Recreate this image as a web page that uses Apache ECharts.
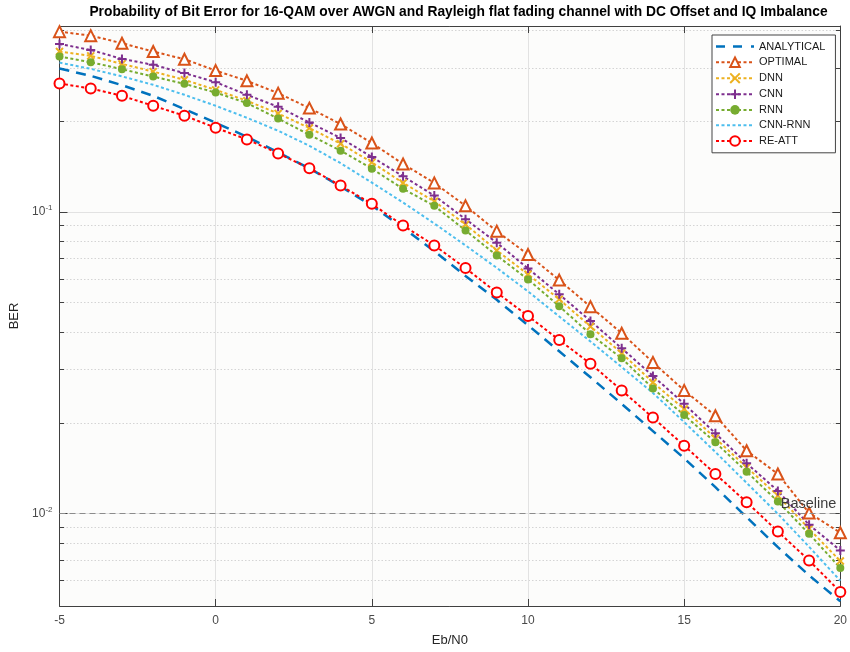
<!DOCTYPE html>
<html><head><meta charset="utf-8">
<script src="https://cdn.jsdelivr.net/npm/echarts@6/dist/echarts.min.js"></script>
<style>html,body{margin:0;padding:0;background:#fff}#c{width:850px;height:652px}</style>
</head><body><div id="c"></div>
<script>
const ebN0 = [-5,-4,-3,-2,-1,0,1,2,3,4,5,6,7,8,9,10,11,12,13,14,15,16,17,18,19,20];
const analytical = [0.2985,0.2823,0.2630,0.2424,0.2191,0.1973,0.1774,0.1574,0.1394,0.1213,0.1049,0.0885,0.0741,0.0613,0.0511,0.0421,0.0345,0.0283,0.0231,0.01877,0.01525,0.01223,0.00973,0.00774,0.00624,0.00512];
const optimal = [0.3956,0.3837,0.3622,0.3398,0.3206,0.2939,0.2718,0.2474,0.2207,0.1954,0.1691,0.1441,0.1247,0.1047,0.0863,0.0722,0.0594,0.0485,0.0396,0.0317,0.0256,0.0211,0.01616,0.01353,0.01005,0.00864];
const dnn = [0.3398,0.3288,0.3094,0.2916,0.2739,0.2537,0.2334,0.2119,0.1896,0.1682,0.1459,0.1247,0.1084,0.0908,0.0745,0.0621,0.0513,0.0417,0.0340,0.0272,0.0222,0.01776,0.01424,0.01147,0.00890,0.00696];
const cnn = [0.3600,0.3440,0.3213,0.3070,0.2883,0.2691,0.2443,0.2229,0.1978,0.1757,0.1520,0.1312,0.1132,0.0946,0.0790,0.0649,0.0533,0.0435,0.0353,0.0286,0.0231,0.01845,0.01468,0.01189,0.00918,0.00755];
const rnn = [0.3270,0.3133,0.2971,0.2808,0.2657,0.2485,0.2293,0.2038,0.1801,0.1595,0.1390,0.1192,0.1047,0.0868,0.0717,0.0597,0.0487,0.0393,0.0327,0.0260,0.0212,0.01722,0.01377,0.01096,0.00857,0.00660];
const cnnRnn = [0.3124,0.2978,0.2812,0.2636,0.2443,0.2247,0.2050,0.1857,0.1656,0.1450,0.1250,0.1074,0.0915,0.0774,0.0652,0.0545,0.0450,0.0372,0.0306,0.0251,0.0201,0.0160,0.01264,0.00998,0.00776,0.00599];
const reAtt = [0.2663,0.2563,0.2424,0.2247,0.2083,0.1900,0.1738,0.1562,0.1394,0.1222,0.1063,0.0901,0.0774,0.0651,0.0540,0.0452,0.0376,0.0314,0.0256,0.0208,0.01679,0.01353,0.01091,0.00872,0.00699,0.00550];
const seriesNames = ['ANALYTICAL','OPTIMAL','DNN','CNN','RNN','CNN-RNN','RE-ATT'];
const xTicks = [-5,0,5,10,15,20];
const yMajorTicks = [0.01, 0.1];
const yMinorTicks = [0.006,0.007,0.008,0.009,0.02,0.03,0.04,0.05,0.06,0.07,0.08,0.09,0.2,0.3,0.4];
const baselineValue = 0.01;
const yMin = 0.00494, yMax = 0.413, xMin = -5, xMax = 20;

const FONT = 'Liberation Sans, Arial, sans-serif';
const AX = '#404040';
const pair = arr => ebN0.map((x, i) => [x, arr[i]]);
const supFmt = v => '10{s|' + Math.round(Math.log10(v)) + '}';
const DOT = [3, 2.5];
const PLUS = 'path://M5,0L5,10M0,5L10,5';
const CROSS = 'path://M0,0L10,10M0,10L10,0';

// legend icon made of short filled bars (line-only legend entries)
function barIcon(segs, h) {
  return 'path://' + segs.map(s => 'M' + s[0] + ',0h' + s[1] + 'v' + h + 'h-' + s[1] + 'z').join('');
}
const dashedIcon = barIcon([[0, 9], [17, 9], [35, 3]], 2.5);
const dottedIcon = barIcon([[0, 3], [5.5, 3], [11, 3], [16.5, 3], [22, 3], [27.5, 3], [33, 3], [38, 0.01]], 2);

function yAx(pos, minor) {
  return {
    type: 'log', logBase: 10, min: yMin, max: yMax, position: pos,
    axisLine: {show: !minor, onZero: false, lineStyle: {color: AX, width: 1}},
    axisTick: {show: true, inside: true, length: minor ? 4.5 : 8, lineStyle: {color: AX}, customValues: minor ? yMinorTicks : yMajorTicks},
    axisLabel: (pos === 'left' && !minor) ? {
      show: true, customValues: yMajorTicks, formatter: supFmt, color: '#4a4a4a', fontSize: 12, margin: 7, fontFamily: FONT,
      rich: {s: {fontSize: 8, padding: [0, 0, 8, 0], color: '#4a4a4a', fontFamily: FONT}}
    } : {show: false},
    splitLine: (pos === 'left') ? (minor ? {show: true, lineStyle: {color: '#d4d4d4', type: [1.5, 2], width: 1}}
                                         : {show: true, lineStyle: {color: '#e2e2e2', width: 1}}) : {show: false},
    minorTick: {show: false}
  };
}

const yAxes = [yAx('left', false), yAx('left', true), yAx('right', false), yAx('right', true)];
yAxes[0].name = 'BER';
yAxes[0].nameLocation = 'middle';
yAxes[0].nameGap = 32;
yAxes[0].nameTextStyle = {fontSize: 13, color: '#262626', fontFamily: FONT};

function xAx(pos) {
  return {
    type: 'value', min: xMin, max: xMax, interval: 5, position: pos,
    axisLine: {show: true, onZero: false, lineStyle: {color: AX, width: 1}},
    axisTick: {show: true, inside: true, length: 7, lineStyle: {color: AX}},
    axisLabel: pos === 'bottom' ? {show: true, color: '#4a4a4a', fontSize: 12, margin: 9, fontFamily: FONT} : {show: false},
    splitLine: pos === 'bottom' ? {show: true, lineStyle: {color: '#e2e2e2', width: 1}} : {show: false}
  };
}
const xAxes = [xAx('bottom'), xAx('top')];
xAxes[0].name = 'Eb/N0';
xAxes[0].nameLocation = 'middle';
xAxes[0].nameGap = 28;
xAxes[0].nameTextStyle = {fontSize: 13, color: '#262626', fontFamily: FONT};

const legendData = seriesNames.map(n => {
  if (n === 'ANALYTICAL') return {name: n, icon: dashedIcon};
  if (n === 'CNN-RNN') return {name: n, icon: dottedIcon};
  return {name: n};
});

const option = {
  animation: false,
  backgroundColor: '#ffffff',
  textStyle: {fontFamily: FONT},
  title: {
    text: 'Probability of Bit Error for 16-QAM over AWGN and Rayleigh flat fading channel with DC Offset and IQ Imbalance',
    left: 458.5, top: 5, padding: 0, textAlign: 'center',
    textStyle: {fontSize: 13.8, fontWeight: 'bold', color: '#000', fontFamily: FONT}
  },
  grid: {left: 59.5, right: 8, top: 26, bottom: 44.7, show: true, backgroundColor: '#fcfcfb', borderWidth: 0},
  legend: {
    data: legendData, orient: 'vertical', left: 712, top: 35,
    padding: [6, 10, 6, 3], itemWidth: 38, itemHeight: 12, itemGap: 4.4,
    backgroundColor: '#ffffff', borderColor: '#444', borderWidth: 1, borderRadius: 0,
    textStyle: {fontSize: 11, color: '#1a1a1a', fontFamily: FONT}
  },
  xAxis: xAxes,
  yAxis: yAxes,
  series: [
    {name: 'ANALYTICAL', type: 'line', data: pair(analytical), symbol: 'none', color: '#0072BD',
     lineStyle: {width: 2.5, type: [10, 7], color: '#0072BD'},
     markLine: {silent: true, symbol: ['none', 'none'], data: [{yAxis: baselineValue}],
       lineStyle: {type: [6, 4], color: '#8c8c8c', width: 1},
       label: {show: true, position: 'insideEndTop', formatter: 'Baseline', color: '#3c3c3c', fontSize: 14.5, distance: [4, 2], fontFamily: FONT}}},
    {name: 'OPTIMAL', type: 'line', data: pair(optimal), symbol: 'emptyTriangle', symbolSize: 11, color: '#D95319',
     lineStyle: {width: 2, type: DOT, color: '#D95319'}, itemStyle: {color: '#D95319', borderColor: '#D95319', borderWidth: 1.8}},
    {name: 'DNN', type: 'line', data: pair(dnn), symbol: CROSS, symbolSize: 7, color: '#EDB120',
     lineStyle: {width: 2, type: DOT, color: '#EDB120'}, itemStyle: {color: '#EDB120', borderColor: '#EDB120', borderWidth: 2}},
    {name: 'CNN', type: 'line', data: pair(cnn), symbol: PLUS, symbolSize: 9, color: '#7E2F8E',
     lineStyle: {width: 2, type: DOT, color: '#7E2F8E'}, itemStyle: {color: '#7E2F8E', borderColor: '#7E2F8E', borderWidth: 2}},
    {name: 'RNN', type: 'line', data: pair(rnn), symbol: 'circle', symbolSize: 8, color: '#77AC30',
     lineStyle: {width: 2, type: DOT, color: '#77AC30'}, itemStyle: {color: '#77AC30'}},
    {name: 'CNN-RNN', type: 'line', data: pair(cnnRnn), symbol: 'none', color: '#4DBEEE',
     lineStyle: {width: 2, type: DOT, color: '#4DBEEE'}},
    {name: 'RE-ATT', type: 'line', data: pair(reAtt), symbol: 'emptyCircle', symbolSize: 10, color: '#FF0000',
     lineStyle: {width: 2, type: DOT, color: '#FF0000'}, itemStyle: {color: '#FF0000', borderColor: '#FF0000', borderWidth: 2.3}}
  ]
};
const chart = echarts.init(document.getElementById('c'), null, {renderer: 'canvas'});
chart.setOption(option);
</script></body></html>
